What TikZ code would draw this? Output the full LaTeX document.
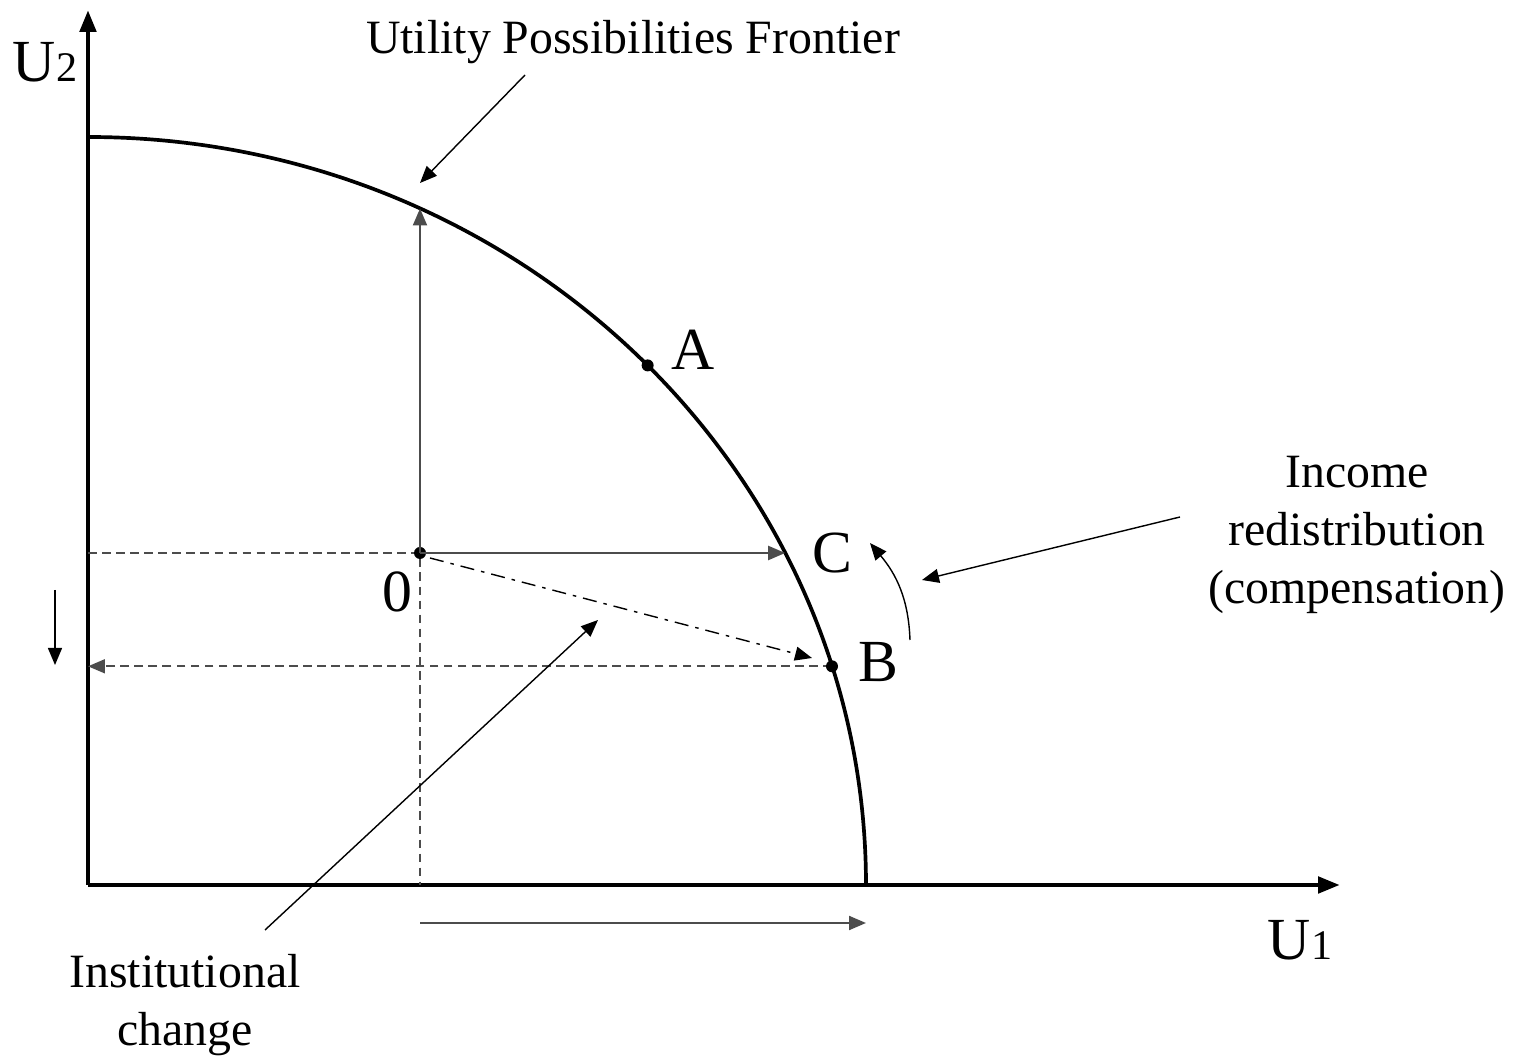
\documentclass[tikz,border=0pt]{standalone}
\usepackage{fontspec}
\setmainfont{Liberation Serif}
\usetikzlibrary{arrows.meta}
\tikzset{
  axis/.style={line width=1.4pt, draw=black, -{Triangle[length=0.22cm, width=0.16cm]}},
  frontier/.style={line width=1.05pt, draw=black},
  move/.style={line width=0.6pt, draw=black!70, -{Triangle[length=0.17cm, width=0.14cm]}},
  thin arrow/.style={line width=0.4pt, draw=black, -{Triangle[length=0.17cm, width=0.14cm]}},
  guide/.style={line width=0.5pt, draw=black!70, dash pattern=on 2.5pt off 1.5pt},
  pointlabel/.style={font=\fontsize{17}{20}\selectfont, inner sep=0pt},
  textlabel/.style={font=\fontsize{13.6}{16.5}\selectfont, align=center, inner sep=0pt},
  dot/.style={circle, fill=black, inner sep=0pt, minimum size=0.12cm},
}
\begin{document}
\begin{tikzpicture}
\useasboundingbox (-0.88,-1.74) rectangle (14.35,8.85);
% axes
\coordinate (O) at (0,0);
\coordinate (ytop) at (0,8.75);
\coordinate (xend) at (12.52,0);
\draw[axis] (O) -- (ytop);
\draw[axis] (O) -- (xend);
\node[pointlabel] (U2) at (-0.43,8.23) {U{\fontsize{12}{14}\selectfont 2}};
\node[pointlabel] (U1) at (12.12,-0.55) {U{\fontsize{12}{14}\selectfont 1}};
% frontier
\draw[frontier] (0,7.48) arc[start angle=90, end angle=0, x radius=7.78, y radius=7.48];
\coordinate (top) at (3.32,6.765);
\coordinate (right) at (6.972,3.32);
% guides
\coordinate (P0c) at (3.32,3.32);
\coordinate (Bc) at (17:7.78 and 7.48);
\draw[guide] (0,3.32) -- (P0c) -- (3.32,0);
\draw[guide, -{Triangle[length=0.17cm, width=0.14cm]}] (Bc) -- (Bc -| O);
\node[dot] (A) at (44:7.78 and 7.48) {};
\node[dot] (B) at (Bc) {};
\node[dot] (P0) at (P0c) {};
\node[pointlabel] (labA) at (6.05,5.35) {A};
\node[pointlabel] (labB) at (7.90,2.23) {B};
\node[pointlabel] (labC) at (7.44,3.32) {C};
\node[pointlabel] (lab0) at (3.09,2.93) {0};
% moves from 0
\draw[move] (P0.center) -- (top);
\draw[move] (P0.center) -- (right);
\coordinate (nearB) at (7.24,2.27);
\draw[thin arrow, dash pattern=on 4pt off 2pt on 1pt off 2pt] (3.42,3.27) -- (nearB);
\coordinate (dnA) at (-0.33,2.95);
\coordinate (dnB) at (-0.33,2.20);
\draw[thin arrow] (dnA) -- (dnB);
\coordinate (rtA) at (3.32,-0.38);
\coordinate (rtB) at (7.78,-0.38);
\draw[move] (rtA) -- (rtB);
% labels
\node[textlabel] (upf) at (5.45,8.43) {Utility Possibilities Frontier};
\coordinate (upfA) at (4.37,8.10);
\coordinate (upfB) at (3.32,7.02);
\draw[thin arrow] (upfA) -- (upfB);
\node[textlabel] (income) at (12.69,3.50) {Income\\redistribution\\(compensation)};
\coordinate (incA) at (10.92,3.68);
\coordinate (incB) at (8.34,3.05);
\draw[thin arrow] (incA) -- (incB);
\coordinate (curA) at (8.22,2.45);
\coordinate (curB) at (7.82,3.42);
\draw[thin arrow] (curA) to[out=92, in=-50] (curB);
\node[textlabel] (inst) at (0.97,-1.20) {Institutional\\change};
\coordinate (instA) at (1.77,-0.45);
\coordinate (instB) at (5.10,2.65);
\draw[thin arrow] (instA) -- (instB);
\end{tikzpicture}
\end{document}
